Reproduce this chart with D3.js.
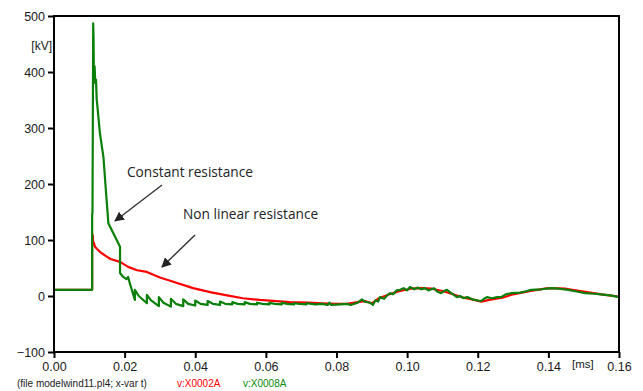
<!DOCTYPE html>
<html><head><meta charset="utf-8">
<script src="https://cdn.jsdelivr.net/npm/d3@7"></script>
<style>body{margin:0;background:#fff}svg{display:block}</style>
</head><body>
<svg id="c" width="643" height="391"></svg>
<script>
const xTicks = [0, 0.02, 0.04, 0.06, 0.08, 0.10, 0.12, 0.14, 0.16];
const yTicks = [-100, 0, 100, 200, 300, 400, 500];
const xUnit = "[ms]";
const yUnit = "[kV]";
const footer = "(file modelwind11.pl4; x-var t)";
const legendRed = "v:X0002A";
const legendGreen = "v:X0008A";
const note1 = "Constant resistance";
const note2 = "Non linear resistance";

// Non linear resistance (red): [time ms, kV]
const redSeries = [[0,11],[0.0108,11],[0.0108,112],[0.0109,100],[0.0110,108],[0.0111,92],[0.0113,95],[0.0116,88],[0.0122,84],[0.0130,79],[0.0145,72],[0.0160,66],[0.0187,61],[0.0210,52],[0.0235,46],[0.0263,43],[0.0300,33],[0.0340,25],[0.0394,14],[0.0442,7],[0.0490,1],[0.0535,-4],[0.0583,-7],[0.0630,-9],[0.0668,-11],[0.0720,-12],[0.0760,-13],[0.0800,-14],[0.0830,-14],[0.0860,-11],[0.0880,-9],[0.0900,-13],[0.0920,-4],[0.0950,3],[0.0980,9],[0.1010,13],[0.1040,14],[0.1070,13],[0.1100,9],[0.1130,3],[0.1160,-3],[0.1190,-7],[0.1210,-10],[0.1240,-6],[0.1270,-3],[0.1300,3],[0.1350,9],[0.1400,14],[0.1450,13],[0.1500,8],[0.1550,3],[0.1600,-1]];

// Constant resistance (green): [time ms, kV]
const greenSeries = [[0,11],[0.0108,11],[0.0108,145],[0.0109,150],[0.0111,487],[0.0112,460],[0.0113,391],[0.0115,410],[0.0117,380],[0.0119,386],[0.0121,350],[0.0123,338],[0.0130,291],[0.0140,248],[0.0149,171],[0.0154,130],[0.0168,112],[0.0187,88],[0.0187,41],[0.0196,34],[0.0205,30],[0.0210,34],[0.0215,22],[0.0229,-7],
[0.0229,11],[0.0240,0],[0.0263,-13],[0.0263,2],[0.0275,-8],[0.0297,-18],[0.0297,-2],[0.0310,-12],[0.0331,-19],[0.0331,-5],[0.0345,-14],[0.0366,-18],[0.0366,-6],[0.0380,-14],[0.0400,-17],[0.0400,-8],[0.0415,-14],[0.0435,-16],[0.0435,-9],[0.0450,-14],[0.0470,-16],[0.0470,-10],[0.0485,-14],[0.0505,-15],[0.0505,-11],[0.0520,-14],[0.0540,-15],[0.0540,-11],[0.0555,-14],[0.0575,-15],[0.0575,-12],[0.0590,-14],[0.0610,-15],[0.0610,-12],[0.0625,-14],[0.0645,-15],[0.0645,-12],[0.0660,-14],[0.0680,-15],[0.0680,-13],[0.0695,-14],[0.0715,-15],[0.0715,-13],
[0.0740,-15],[0.0760,-14],[0.0775,-16],[0.0780,-12],[0.0785,-16],[0.0810,-15],[0.0830,-14],[0.0840,-16],[0.0860,-12],[0.0872,-6],[0.0880,-10],[0.0895,-12],[0.0903,-16],[0.0910,-8],[0.0918,-10],[0.0923,-2],[0.0935,-5],[0.0945,2],[0.0952,5],[0.0960,3],[0.0970,10],[0.0980,11],[0.0990,14],[0.1000,10],[0.1008,16],[0.1020,12],[0.1030,15],[0.1040,12],[0.1050,14],[0.1060,10],[0.1076,14],[0.1085,8],[0.1096,5],[0.1105,9],[0.1113,11],[0.1125,5],[0.1141,-2],[0.1150,0],[0.1160,-4],[0.1170,-2],[0.1185,-6],[0.1200,-8],[0.1209,-9],[0.1218,-5],[0.1226,-2],[0.1240,-4],[0.1255,-2],[0.1266,-2],[0.1280,3],[0.1294,5],[0.1320,6],[0.1340,9],[0.1351,11],[0.1380,12],[0.1408,14],[0.1430,13],[0.1456,11],[0.1480,8],[0.1504,5],[0.1530,4],[0.1549,3],[0.1575,1],[0.1600,-2]];

const W = 643, H = 391;
const m = {l:54, t:16, r:24, b:39};
const svg = d3.select("#c");
const x = d3.scaleLinear().domain([0, 0.16]).range([m.l, W - m.r]);
const y = d3.scaleLinear().domain([-100, 500]).range([H - m.b, m.t]);

const clip = svg.append("defs").append("clipPath").attr("id","cp")
  .append("rect").attr("x", m.l).attr("y", m.t).attr("width", W-m.l-m.r).attr("height", H-m.t-m.b);

const line = d3.line().x(d => x(d[0])).y(d => y(d[1]));
const g = svg.append("g").attr("clip-path","url(#cp)");
g.append("path").datum(redSeries).attr("d", line).attr("fill","none").attr("stroke","#ff0000").attr("stroke-width",2.2).attr("stroke-linejoin","round");
g.append("path").datum(greenSeries).attr("d", line).attr("fill","none").attr("stroke","#0a7f0a").attr("stroke-width",2.2).attr("stroke-linejoin","round");

// frame
svg.append("rect").attr("x", m.l).attr("y", m.t).attr("width", W-m.l-m.r).attr("height", H-m.t-m.b)
  .attr("fill","none").attr("stroke","#000").attr("stroke-width",2);

const font = "Liberation Sans, Arial, sans-serif";
const yAx = svg.append("g").attr("transform", `translate(${m.l},0)`)
  .call(d3.axisLeft(y).tickValues(yTicks).tickSize(6).tickPadding(3).tickFormat(d3.format("d")));
const xAx = svg.append("g").attr("transform", `translate(0,${H-m.b})`)
  .call(d3.axisBottom(x).tickValues(xTicks).tickSize(6).tickPadding(4).tickFormat(d3.format(".2f")));
[yAx, xAx].forEach(a => {
  a.select(".domain").remove();
  a.selectAll(".tick line").attr("stroke","#000").attr("stroke-width",2);
  a.selectAll("text").attr("font-family", font).attr("font-size", 12.5).attr("fill","#1a1a1a");
});

svg.append("text").attr("x", 52).attr("y", 50).attr("text-anchor","end")
  .attr("font-family", font).attr("font-size", 12).attr("fill","#1a1a1a").text(yUnit);
svg.append("text").attr("x", 572).attr("y", 368)
  .attr("font-family", font).attr("font-size", 11.5).attr("fill","#1a1a1a").text(xUnit);

svg.append("text").attr("x", 17).attr("y", 387).attr("font-family", font).attr("font-size", 10).attr("fill","#1a1a1a").text(footer);
svg.append("text").attr("x", 177).attr("y", 387).attr("font-family", font).attr("font-size", 10).attr("fill","#ff0000").text(legendRed);
svg.append("text").attr("x", 243).attr("y", 387).attr("font-family", font).attr("font-size", 10).attr("fill","#0a8a0a").text(legendGreen);

// annotations
const af = "Open Sans, Noto Sans, sans-serif";
svg.append("text").attr("x", 127).attr("y", 177).attr("font-family", af).attr("font-size", 13.7).attr("fill","#222").text(note1);
svg.append("text").attr("x", 183).attr("y", 219).attr("font-family", af).attr("font-size", 13.7).attr("fill","#222").text(note2);

const defs = svg.select("defs");
defs.append("marker").attr("id","ah").attr("viewBox","0 0 10 10").attr("refX",9).attr("refY",5)
  .attr("markerWidth",7).attr("markerHeight",7).attr("orient","auto")
  .append("path").attr("d","M0,0 L10,5 L0,10 Z").attr("fill","#222");
function arrow(x1,y1,x2,y2){
  svg.append("line").attr("x1",x1).attr("y1",y1).attr("x2",x2).attr("y2",y2)
    .attr("stroke","#333").attr("stroke-width",1.4).attr("marker-end","url(#ah)");
}
arrow(162,185,115,221);
arrow(195,235,162,267);
</script>
</body></html>
